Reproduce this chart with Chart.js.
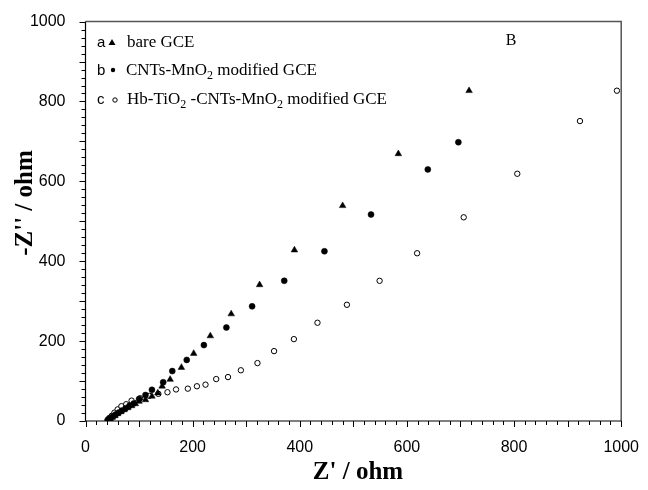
<!DOCTYPE html>
<html>
<head>
<meta charset="utf-8">
<script src="https://cdn.jsdelivr.net/npm/chart.js@4/dist/chart.umd.min.js"></script>
<style>
  html, body { margin: 0; padding: 0; background: #fff; }
</style>
</head>
<body>
<canvas id="eisChart" width="648" height="490"></canvas>
<script>
// Nyquist data (Z' and -Z'' in ohm)
const bareX = [42, 46, 50, 55, 60, 66, 72, 79, 86, 93, 100, 112, 124, 135, 143, 158, 179, 202, 233, 272, 325, 390, 480, 584, 716];
const bareY = [2, 5, 9, 13, 18, 23, 28, 33, 38, 43, 49, 53, 62, 70, 87, 104, 134, 169, 213, 268, 341, 428, 539, 669, 827];

const cntX = [42, 46, 51, 56, 62, 68, 75, 82, 90, 100, 112, 124, 145, 162, 189, 221, 263, 311, 371, 446, 533, 639, 696];
const cntY = [3, 7, 11, 16, 21, 26, 32, 38, 44, 55, 65, 78, 97, 125, 153, 190, 234, 287, 351, 425, 517, 630, 698];

const hbX = [41, 44, 49, 54, 60, 67, 76, 86, 102, 119, 136, 153, 169, 191, 208, 224, 244, 266, 290, 321, 352, 389, 433, 488, 549, 619, 706, 806, 923, 992];
const hbY = [2, 7, 13, 21, 29, 37, 42, 51, 57, 63, 68, 72, 79, 81, 87, 91, 105, 110, 127, 145, 175, 205, 246, 291, 351, 420, 510, 619, 751, 827];

const tickLabels = [0, 200, 400, 600, 800, 1000];

const tickFont = '"Liberation Sans Narrow", "Arial Narrow", "Liberation Sans", Arial, sans-serif';
const serif = '"Liberation Serif", "Times New Roman", serif';

function toPoints(xs, ys) {
  return xs.map((x, i) => ({ x: x, y: ys[i] }));
}

// draws text pieces, some of them as subscripts
function drawRich(ctx, parts, x, y) {
  parts.forEach(p => {
    if (p.sub) {
      ctx.font = '12px ' + serif;
      ctx.fillText(p.t, x, y + 4);
    } else {
      ctx.font = '17px ' + serif;
      ctx.fillText(p.t, x, y);
    }
    x += ctx.measureText(p.t).width;
  });
}

const framePlugin = {
  id: 'frame',
  afterDraw(chart) {
    const ctx = chart.ctx;
    const a = chart.chartArea;
    const xs = chart.scales.x, ys = chart.scales.y;
    ctx.save();

    // box
    ctx.strokeStyle = '#555';
    ctx.lineWidth = 1.5;
    ctx.beginPath();
    ctx.moveTo(a.left, a.top);
    ctx.lineTo(a.right, a.top);
    ctx.lineTo(a.right, a.bottom);
    ctx.stroke();
    ctx.strokeStyle = '#000';
    ctx.lineWidth = 1.2;
    ctx.beginPath();
    ctx.moveTo(a.left, a.top);
    ctx.lineTo(a.left, a.bottom);
    ctx.lineTo(a.right, a.bottom);
    ctx.stroke();

    // outward ticks, every 20, longer every 100
    ctx.lineWidth = 1;
    ctx.beginPath();
    for (let v = 0; v <= 1000; v += 20) {
      const len = v % 100 === 0 ? 6 : 4;
      const px = Math.round(xs.getPixelForValue(v)) + 0.5;
      ctx.moveTo(px, a.bottom);
      ctx.lineTo(px, a.bottom + len);
      const py = Math.round(ys.getPixelForValue(v)) + 0.5;
      ctx.moveTo(a.left, py);
      ctx.lineTo(a.left - len, py);
    }
    ctx.stroke();

    // axis titles
    ctx.fillStyle = '#000';
    ctx.textAlign = 'center';
    ctx.textBaseline = 'middle';
    ctx.font = 'bold 25px ' + serif;
    ctx.fillText("Z' / ohm", 358, 473);
    ctx.save();
    ctx.translate(26, 203);
    ctx.rotate(-Math.PI / 2);
    ctx.fillText("-Z'' / ohm", 0, 0);
    ctx.restore();

    // panel letter
    ctx.font = '16px ' + serif;
    ctx.fillText('B', 511, 41);

    // legend
    ctx.textAlign = 'left';
    ctx.textBaseline = 'alphabetic';
    const rows = [47, 75, 104];
    ['a', 'b', 'c'].forEach((l, i) => {
      ctx.font = '15px ' + tickFont;
      ctx.fillText(l, 97, rows[i]);
    });
    // markers
    ctx.beginPath();
    ctx.moveTo(112, rows[0] - 8);
    ctx.lineTo(115.5, rows[0] - 2);
    ctx.lineTo(108.5, rows[0] - 2);
    ctx.closePath();
    ctx.fill();
    ctx.beginPath();
    ctx.arc(113, rows[1] - 5, 2.2, 0, Math.PI * 2);
    ctx.fill();
    ctx.beginPath();
    ctx.arc(115, rows[2] - 4, 2.2, 0, Math.PI * 2);
    ctx.lineWidth = 1;
    ctx.stroke();

    drawRich(ctx, [{ t: 'bare GCE' }], 127, rows[0]);
    drawRich(ctx, [{ t: 'CNTs-MnO' }, { t: '2', sub: true }, { t: ' modified GCE' }], 126, rows[1]);
    drawRich(ctx, [{ t: 'Hb-TiO' }, { t: '2', sub: true }, { t: ' -CNTs-MnO' }, { t: '2', sub: true }, { t: ' modified GCE' }], 127, rows[2]);

    ctx.restore();
  }
};

const ctx = document.getElementById('eisChart').getContext('2d');
const eisChart = new Chart(ctx, {
  type: 'scatter',
  data: {
    datasets: [
      {
        label: 'bare GCE',
        data: toPoints(bareX, bareY),
        pointStyle: 'triangle',
        pointRadius: 3.8,
        backgroundColor: '#000',
        borderColor: '#000',
        borderWidth: 0.5
      },
      {
        label: 'CNTs-MnO2 modified GCE',
        data: toPoints(cntX, cntY),
        pointStyle: 'circle',
        pointRadius: 3,
        backgroundColor: '#000',
        borderColor: '#000',
        borderWidth: 0.5
      },
      {
        label: 'Hb-TiO2-CNTs-MnO2 modified GCE',
        data: toPoints(hbX, hbY),
        pointStyle: 'circle',
        pointRadius: 2.7,
        backgroundColor: '#fff',
        borderColor: '#000',
        borderWidth: 1
      }
    ]
  },
  options: {
    responsive: false,
    animation: false,
    layout: { padding: { top: 20, right: 20, left: 0, bottom: 0 } },
    plugins: {
      legend: { display: false },
      tooltip: { enabled: false }
    },
    scales: {
      x: {
        type: 'linear',
        min: 0,
        max: 1000,
        afterFit(scale) { scale.height = 69; },
        grid: { display: false },
        border: { display: false },
        ticks: {
          stepSize: 20,
          autoSkip: false,
          maxRotation: 0,
          padding: 9,
          color: '#000',
          font: { family: tickFont, size: 16 },
          callback: v => (tickLabels.includes(v) ? String(v) : '')
        }
      },
      y: {
        type: 'linear',
        min: 0,
        max: 1000,
        afterFit(scale) { scale.width = 85.5; },
        grid: { display: false },
        border: { display: false },
        ticks: {
          stepSize: 20,
          autoSkip: false,
          padding: 12,
          color: '#000',
          font: { family: tickFont, size: 16 },
          callback: v => (tickLabels.includes(v) ? String(v) : '')
        }
      }
    }
  },
  plugins: [framePlugin]
});
</script>
</body>
</html>
